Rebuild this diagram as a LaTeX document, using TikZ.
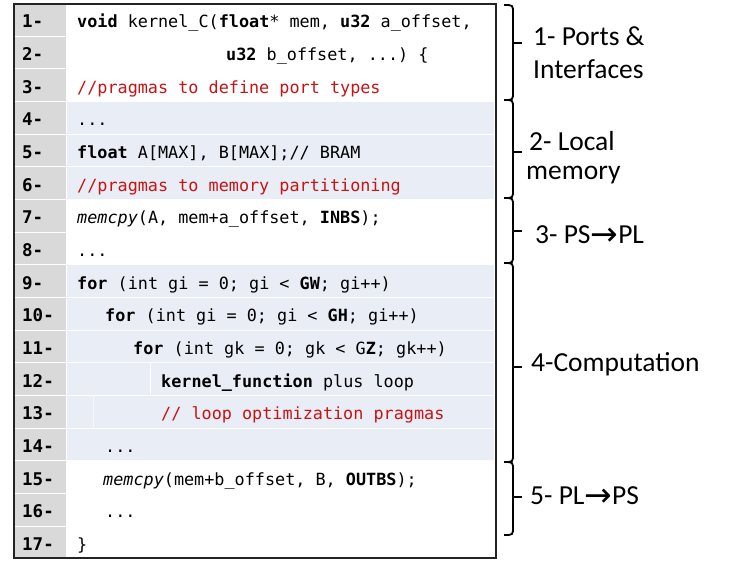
\documentclass[tikz,border=0pt]{standalone}
\usepackage{fontspec}
\setmonofont{DejaVu Sans Mono}
\newfontfamily\lblfont{Carlito}
\newfontfamily\arrfont{DejaVu Sans}
\newcommand{\bigarr}{\raisebox{-2.5pt}{\arrfont\fontsize{33}{33}\selectfont →}}
\definecolor{cmt}{RGB}{200,20,20}
\definecolor{rowblue}{RGB}{233,237,245}
\definecolor{numgray}{RGB}{217,217,217}
\definecolor{frame}{RGB}{35,35,35}
\begin{document}
\begin{tikzpicture}[x=1pt,y=-1pt,
  code/.style={anchor=west, inner sep=0pt, font=\fontsize{16.8}{20}\ttfamily, text height=11pt, text depth=1pt},
  num/.style={code, font=\fontsize{17.5}{20}\ttfamily\bfseries},
  cmtx/.style={code, text=cmt},
  lbl/.style={anchor=base west, inner sep=0pt, font=\fontsize{27.5}{32}\lblfont},
  bracepath/.style={line width=1.8pt, draw=black},
  sep/.style={white, line width=1pt}]
\useasboundingbox (0,0) rectangle (730,560);
\fill[white] (0,0) rectangle (730,560);
% backgrounds
\fill[numgray] (14,3.5) rectangle (66,558);
\fill[rowblue] (66,101.48) rectangle (494,199.46);
\fill[rowblue] (66,264.78) rectangle (494,460.74);
% row separators
\foreach \yy in {36.16,68.82,101.48,134.14,166.8,199.46,232.12,264.78,297.44,330.1,362.76,395.42,428.08,460.74,493.4,526.06}
  \draw[sep] (14,\yy) -- (494,\yy);
\draw[sep] (66,3.5) -- (66,558);
\draw[sep] (150,362.76) -- (150,395.42);
\draw[white!60!rowblue, line width=0.8pt] (93,395.42) -- (93,428.08);
% frame
\draw[frame, line width=2pt] (14,3.5) rectangle (495.5,557.5);
% line numbers
\foreach \n [count=\i] in {1,...,17}{
  \pgfmathsetmacro{\yc}{3.5+(\i-0.5)*32.66+3}
  \node[num] (n\i) at (22,\yc) {\n-};
}
% code
\node[code] (c1) at (77,22.8) {\textbf{void} kernel\_C(\textbf{float}* mem, \textbf{u32} a\_offset,};
\node[code] (c2) at (226,55.5) {\textbf{u32} b\_offset, ...) \{};
\node[cmtx] (c3) at (77,88.2) {//pragmas to define port types};
\node[code] (c4) at (77,120.8) {...};
\node[code] (c5) at (77,153.5) {\textbf{float} A[MAX], B[MAX];// BRAM};
\node[cmtx] (c6) at (77,186.1) {//pragmas to memory partitioning};
\node[code] (c7) at (77,218.8) {\textit{memcpy}(A, mem+a\_offset, \textbf{INBS});};
\node[code] (c8) at (77,251.5) {...};
\node[code] (c9) at (77,284.1) {\textbf{for} (int gi = 0; gi < \textbf{GW}; gi++)};
\node[code] (c10) at (105,316.8) {\textbf{for} (int gi = 0; gi < \textbf{GH}; gi++)};
\node[code] (c11) at (133,349.4) {\textbf{for} (int gk = 0; gk < G\textbf{Z}; gk++)};
\node[code] (c12) at (161,382.1) {\textbf{kernel\_function} plus loop};
\node[cmtx] (c13) at (161,414.8) {// loop optimization pragmas};
\node[code] (c14) at (105,447.4) {...};
\node[code] (c15) at (103,480.1) {\textit{memcpy}(mem+b\_offset, B, \textbf{OUTBS});};
\node[code] (c16) at (105,512.7) {...};
\node[code] (c17) at (77,545.4) {\}};
% braces
\foreach \t/\b/\m in {5/100/43, 100/198/152, 198/263/231, 263/462/367, 462/535/497}{
  \draw[bracepath] (504,\t) .. controls (513,\t) and (513,\t) .. (513,\t+8)
     -- (513,\b-8) .. controls (513,\b) and (513,\b) .. (504,\b);
  \draw[bracepath] (513,\m) -- (522,\m);
}
% labels
\node[lbl] (l1a) at (533,45) {1- Ports \&};
\node[lbl] (l1b) at (533,78) {Interfaces};
\node[lbl] (l2a) at (529,150) {2- Local};
\node[lbl] (l2b) at (526,179) {memory};
\node[lbl] (l3) at (535,243) {3- PS\bigarr PL};
\node[lbl] (l4) at (531,371) {4-Computation};
\node[lbl] (l5) at (530,504) {5- PL\bigarr PS};
\end{tikzpicture}
\end{document}
